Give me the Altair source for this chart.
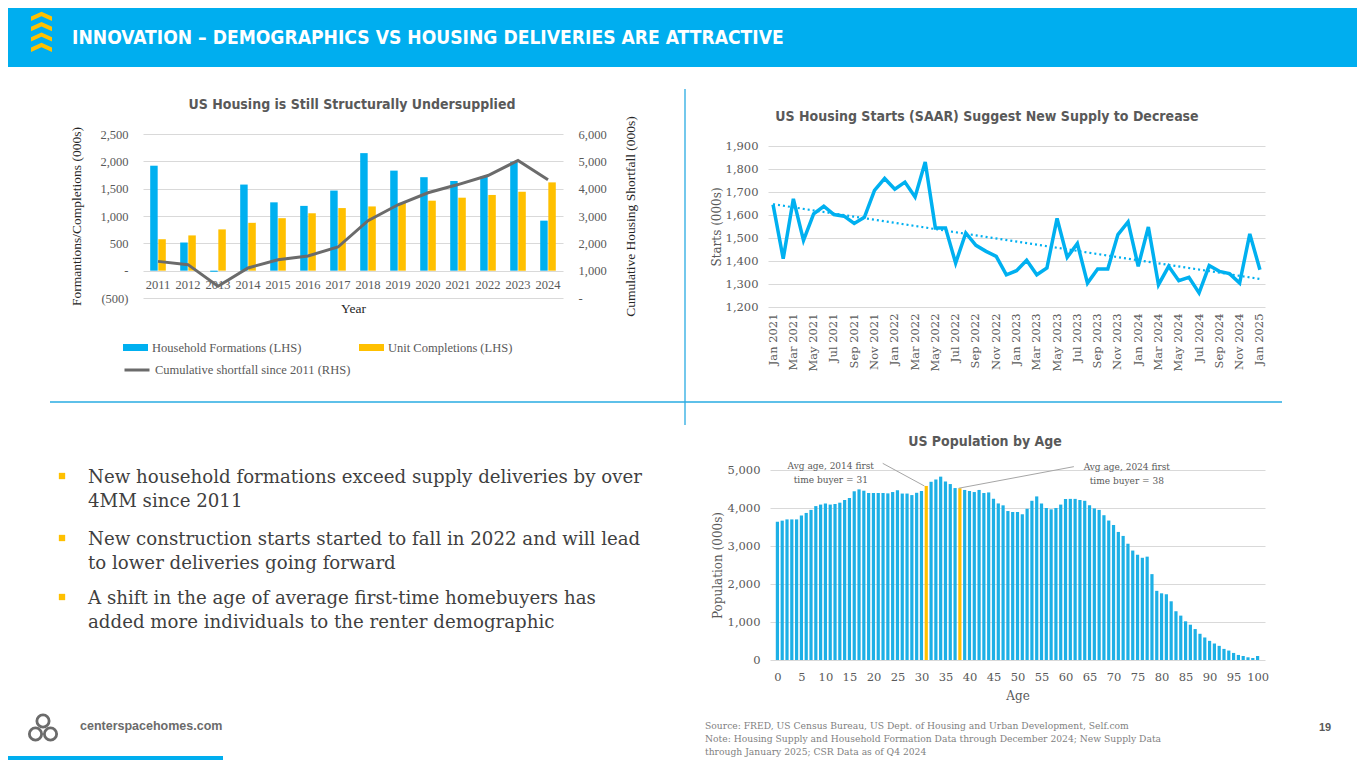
import json
import altair as alt
import pandas as pd

BLUE = "#00B0F0"
BAR_BLUE = "#1DB0E6"
YELLOW = "#FFC000"
GRAY = "#595959"
TEXT = "#3F3F3F"
GRID = "#D9D9D9"
HEAD = "#00AEEF"
DIVIDER = "#29ABE2"
LINE_GRAY = "#6B6B6B"
NARROW = "Liberation Sans Narrow, DejaVu Sans Condensed, sans-serif"
TIMES = "Liberation Serif"
SERIF = "DejaVu Serif"
W, H = 1349, 752

# ---------------- text content ----------------
header_title = "INNOVATION – DEMOGRAPHICS VS HOUSING DELIVERIES ARE ATTRACTIVE"
title1 = "US Housing is Still Structurally Undersupplied"
title2 = "US Housing Starts (SAAR) Suggest New Supply to Decrease"
title3 = "US Population by Age"
bullets = [
    "New household formations exceed supply deliveries by over\n4MM since 2011",
    "New construction starts started to fall in 2022 and will lead\nto lower deliveries going forward",
    "A shift in the age of average first-time homebuyers has\nadded more individuals to the renter demographic",
]
source_lines = [
    "Source: FRED, US Census Bureau, US Dept. of Housing and Urban Development, Self.com",
    "Note: Housing Supply and Household Formation Data through December 2024; New Supply Data",
    "through January 2025; CSR Data as of Q4 2024",
]
website = "centerspacehomes.com"
page_number = "19"

# ---------------- chart 1 data ----------------
years = [2011, 2012, 2013, 2014, 2015, 2016, 2017, 2018, 2019, 2020, 2021, 2022, 2023, 2024]
household_formations = [1920, 515, -20, 1575, 1250, 1185, 1465, 2150, 1830, 1710, 1640, 1720, 1995, 915]
unit_completions = [575, 645, 755, 875, 960, 1050, 1145, 1175, 1240, 1280, 1335, 1385, 1445, 1615]
cumulative_shortfall = [1340, 1220, 430, 1100, 1400, 1540, 1865, 2830, 3410, 3850, 4150, 4480, 5030, 4330]
series_names = ["Household Formations (LHS)", "Unit Completions (LHS)"]
line_name = "Cumulative shortfall since 2011 (RHS)"
lhs_ticks = [-500, 0, 500, 1000, 1500, 2000, 2500]
rhs_ticks = [0, 1000, 2000, 3000, 4000, 5000, 6000]

# ---------------- chart 2 data ----------------
month_names = ["Jan", "Feb", "Mar", "Apr", "May", "Jun", "Jul", "Aug", "Sep", "Oct", "Nov", "Dec"]
month_labels = [f"{m} {y}" for y in range(2021, 2026) for m in month_names][:49]
housing_starts = [1645, 1410, 1670, 1490, 1605, 1638, 1602, 1595, 1563, 1590,
                  1707, 1759, 1712, 1743, 1678, 1830, 1544, 1544, 1391, 1522,
                  1468, 1442, 1420, 1340, 1358, 1403, 1340, 1370, 1585, 1416,
                  1476, 1304, 1365, 1365, 1515, 1570, 1377, 1548, 1297, 1377,
                  1314, 1329, 1261, 1380, 1355, 1345, 1304, 1518, 1362]
starts_ticks = [1200, 1300, 1400, 1500, 1600, 1700, 1800, 1900]

# ---------------- chart 3 data ----------------
ages = list(range(0, 101))
population = [3640, 3667, 3700, 3700, 3700, 3800, 3870, 3950, 4050, 4090,
              4120, 4090, 4105, 4140, 4210, 4260, 4440, 4490, 4455, 4395,
              4395, 4395, 4395, 4385, 4420, 4465, 4380, 4380, 4340, 4400,
              4450, 4580, 4690, 4750, 4825, 4700, 4630, 4525, 4520, 4475,
              4450, 4420, 4475, 4395, 4410, 4245, 4120, 4070, 3920, 3895,
              3895, 3835, 3980, 4190, 4305, 4120, 4000, 3965, 4000, 4090,
              4240, 4240, 4240, 4210, 4190, 4070, 3990, 3950, 3810, 3670,
              3555, 3370, 3265, 3060, 2880, 2770, 2690, 2720, 2260, 1820,
              1755, 1730, 1545, 1283, 1168, 1018, 929, 814, 690, 593,
              504, 434, 372, 292, 248, 186, 133, 106, 71, 53, 106]
buyer_ages = [31, 38]
annotations = ["Avg age, 2014 first\ntime buyer = 31", "Avg age, 2024 first\ntime buyer = 38"]
ann_text_age = [11.9, 72.3]
ann_text_pop = [5118, 5079]
ann_line_age = [22.5, 61.5]
ann_line_pop = [5175, 5088]
pop_ticks = [0, 1000, 2000, 3000, 4000, 5000]
age_ticks = list(range(0, 101, 5))

one = alt.Data(values=[{"k": 0}])
layers = []
COMMA = "format(datum.value, ',')"


def label_text(text, x, y, **kw):
    return alt.Chart(one).mark_text(text=text, **kw).encode(x=alt.value(x), y=alt.value(y))


def axis_common(**kw):
    base = dict(domain=False, ticks=False, tickSize=0, titleFontWeight="normal")
    base.update(kw)
    return alt.Axis(**base)


# ---------------- header ----------------
CHEVRON = "M-1,0 L0,-0.45 L1,0 L1,0.42 L0,-0.03 L-1,0.42 Z"
layers.append(alt.Chart(one).mark_rect(color=HEAD).encode(
    x=alt.value(0), x2=alt.value(W), y=alt.value(0), y2=alt.value(59)))
layers.append(alt.Chart(pd.DataFrame({"i": [0, 1, 2, 3]})).mark_point(
    shape=CHEVRON, size=441, filled=True, color=YELLOW, opacity=1, strokeWidth=0
).encode(x=alt.value(33.5),
         y=alt.Y("i:Q", scale=alt.Scale(domain=[0, 3], range=[8.5, 39.5]), axis=None)))
layers.append(label_text(header_title, 64, 30, font=NARROW, fontSize=19.1, fontWeight="bold",
                         color="white", align="left", baseline="middle"))

# ---------------- chart 1 ----------------
X1_RANGE = [135, 555]
Y1_RANGE = [290, 126]
bars_df = pd.DataFrame({
    "year": years * 2,
    "series": [series_names[0]] * len(years) + [series_names[1]] * len(years),
    "value": household_formations + unit_completions,
})
line_df = pd.DataFrame({"year": years, "shortfall": cumulative_shortfall, "name": line_name})
lhs_expr = ("datum.value == 0 ? '-' : (datum.value < 0 ? '(' + format(-datum.value, ',') + ')' "
            ": format(datum.value, ','))")
rhs_expr = "datum.value == 0 ? '-' : format(datum.value, ',')"


def x1_scale():
    return alt.Scale(domain=years, range=X1_RANGE, paddingInner=0.48, paddingOuter=0.24)


layers.append(alt.Chart(bars_df).mark_bar().encode(
    x=alt.X("year:O", title="Year", scale=x1_scale(),
            axis=axis_common(orient="bottom", offset=263 - H, labelAngle=0, labelPadding=7,
                             labelFont=TIMES, labelFontSize=12.5, labelColor=GRAY,
                             titleFont=TIMES, titleFontSize=13.5, titleColor="#262626",
                             titlePadding=11)),
    xOffset=alt.XOffset("series:N", sort=series_names, scale=alt.Scale(paddingInner=0.08)),
    y=alt.Y("value:Q", scale=alt.Scale(domain=[-500, 2500], range=Y1_RANGE, nice=False, zero=False),
            axis=axis_common(orient="left", offset=-X1_RANGE[0], values=lhs_ticks,
                             labelExpr=lhs_expr, grid=True, gridColor=GRID, labelPadding=15,
                             labelFont=TIMES, labelFontSize=12.5, labelColor=GRAY,
                             title="Formantions/Completions (000s)", titleFont=TIMES,
                             titleFontSize=13.5, titleColor="#262626", titlePadding=16)),
    color=alt.Color("series:N", sort=series_names,
                    scale=alt.Scale(domain=series_names, range=[BLUE, YELLOW]),
                    legend=alt.Legend(title=None, orient="none", legendX=115, legendY=327,
                                      columns=2, columnPadding=57, labelLimit=300,
                                      symbolType="M-1,-0.28H1V0.28H-1Z", symbolSize=625,
                                      symbolStrokeWidth=0, labelFont=TIMES, labelFontSize=12.5,
                                      labelColor=GRAY, labelOffset=4, padding=0)),
))
layers.append(alt.Chart(line_df).mark_line(strokeWidth=3).encode(
    x=alt.X("year:O", scale=x1_scale(), axis=None),
    y=alt.Y("shortfall:Q", scale=alt.Scale(domain=[0, 6000], range=Y1_RANGE, nice=False),
            axis=axis_common(orient="right", offset=X1_RANGE[1] - W, values=rhs_ticks,
                             labelExpr=rhs_expr, grid=False, labelPadding=15,
                             labelFont=TIMES, labelFontSize=12.5, labelColor=GRAY,
                             title="Cumulative Housing Shortfall (000s)", titleAngle=270,
                             titleFont=TIMES, titleFontSize=13.5, titleColor="#262626",
                             titlePadding=31)),
    stroke=alt.Stroke("name:N", scale=alt.Scale(domain=[line_name], range=[LINE_GRAY]),
                      legend=alt.Legend(title=None, orient="none", legendX=115, legendY=348,
                                        symbolType="stroke", symbolSize=625, labelLimit=300,
                                        symbolStrokeWidth=3, labelFont=TIMES,
                                        labelFontSize=12.5, labelColor=GRAY, labelOffset=4,
                                        padding=0)),
))
layers.append(label_text(title1, 344, 97, font=NARROW, fontSize=14, fontWeight="bold",
                         color=GRAY, align="center", baseline="middle"))

# ---------------- chart 2 ----------------
X2_RANGE = [760, 1257]
Y2_RANGE = [299, 138]
df2 = pd.DataFrame({"idx": list(range(len(month_labels))), "month": month_labels,
                    "starts": housing_starts})
lab2 = json.dumps(month_labels) + "[datum.value]"


def x2_scale():
    return alt.Scale(domain=[-0.5, len(month_labels) - 0.5], range=X2_RANGE, nice=False, zero=False)


def y2_scale():
    return alt.Scale(domain=[1200, 1900], range=Y2_RANGE, nice=False, zero=False)


layers.append(alt.Chart(df2).mark_line(color=BLUE, strokeWidth=3.5).encode(
    x=alt.X("idx:Q", scale=x2_scale(),
            axis=axis_common(orient="bottom", offset=Y2_RANGE[0] - H,
                             values=list(range(0, len(month_labels), 2)), labelExpr=lab2,
                             labelAngle=270, labelPadding=6, labelFlush=False, grid=False,
                             labelFont=SERIF, labelFontSize=11.5, labelColor=GRAY, title=None)),
    y=alt.Y("starts:Q", scale=y2_scale(),
            axis=axis_common(orient="left", offset=-X2_RANGE[0], values=starts_ticks,
                             labelExpr=COMMA, grid=True, gridColor=GRID, labelPadding=10,
                             labelFont=SERIF, labelFontSize=11.5, labelColor=GRAY,
                             title="Starts (000s)", titleFont=SERIF, titleFontSize=12,
                             titleColor=GRAY, titlePadding=2)),
))
layers.append(alt.Chart(df2).transform_regression("idx", "starts").mark_line(
    color=BLUE, strokeWidth=2.2, strokeDash=[2, 3]).encode(
    x=alt.X("idx:Q", scale=x2_scale(), axis=None),
    y=alt.Y("starts:Q", scale=y2_scale(), axis=None)))
layers.append(label_text(title2, 979, 109, font=NARROW, fontSize=14, fontWeight="bold",
                         color=GRAY, align="center", baseline="middle"))

# ---------------- chart 3 ----------------
X3_RANGE = [762, 1257]
Y3_RANGE = [652, 462]
df3 = pd.DataFrame({"age": ages, "pop": population,
                    "kind": ["buyer" if a in buyer_ages else "pop" for a in ages]})
ann_df = pd.DataFrame({
    "label": annotations, "tx": ann_text_age, "ty": ann_text_pop,
    "lx": ann_line_age, "ly": ann_line_pop,
    "bx": buyer_ages, "by": [population[a] for a in buyer_ages],
})


def x3_scale():
    return alt.Scale(domain=[-0.5, 100.5], range=X3_RANGE, nice=False, zero=False)


def y3_scale():
    return alt.Scale(domain=[0, 5000], range=Y3_RANGE, nice=False)


layers.append(alt.Chart(df3).mark_bar(size=3.2).encode(
    x=alt.X("age:Q", scale=x3_scale(),
            axis=axis_common(orient="bottom", offset=Y3_RANGE[0] - H, values=age_ticks,
                             labelFlush=False, grid=False, labelPadding=11, labelFont=SERIF,
                             labelFontSize=11.5, labelColor=GRAY, title="Age", titleFont=SERIF,
                             titleFontSize=12, titleColor=GRAY, titlePadding=8)),
    y=alt.Y("pop:Q", scale=y3_scale(),
            axis=axis_common(orient="left", offset=-X3_RANGE[0], values=pop_ticks,
                             labelExpr=COMMA, grid=True, gridColor=GRID, labelPadding=10,
                             labelFont=SERIF, labelFontSize=11.5, labelColor=GRAY,
                             title="Population (000s)", titleFont=SERIF, titleFontSize=12,
                             titleColor=GRAY, titlePadding=3)),
    color=alt.Color("kind:N", scale=alt.Scale(domain=["pop", "buyer"], range=[BAR_BLUE, YELLOW]),
                    legend=None),
))
layers.append(alt.Chart(ann_df).mark_rule(color="#A6A6A6", strokeWidth=1).encode(
    x=alt.X("lx:Q", scale=x3_scale(), axis=None),
    y=alt.Y("ly:Q", scale=y3_scale(), axis=None),
    x2="bx:Q", y2="by:Q"))
layers.append(alt.Chart(ann_df).mark_text(
    font=SERIF, fontSize=9, color=GRAY, align="center", baseline="middle",
    lineBreak="\n", lineHeight=14).encode(
    x=alt.X("tx:Q", scale=x3_scale(), axis=None),
    y=alt.Y("ty:Q", scale=y3_scale(), axis=None),
    text="label:N"))
layers.append(label_text(title3, 977, 434, font=NARROW, fontSize=14, fontWeight="bold",
                         color=GRAY, align="center", baseline="middle"))

# ---------------- dividers ----------------
layers.append(alt.Chart(one).mark_rule(color=DIVIDER, strokeWidth=1.3).encode(
    x=alt.value(677), y=alt.value(81), y2=alt.value(417)))
layers.append(alt.Chart(one).mark_rule(color=DIVIDER, strokeWidth=1.3).encode(
    x=alt.value(42), x2=alt.value(1274), y=alt.value(394)))

# ---------------- bullets ----------------
bullet_y = [468, 530, 589]
for b, by in zip(bullets, bullet_y):
    layers.append(alt.Chart(one).mark_point(shape="square", filled=True, color=YELLOW,
                                            size=40, opacity=1).encode(
        x=alt.value(54), y=alt.value(by)))
    layers.append(label_text(b, 80, by + 7, font=SERIF, fontSize=18.2, color=TEXT,
                             align="left", baseline="alphabetic", lineBreak="\n",
                             lineHeight=24))

# ---------------- footer ----------------
for cx, cy in [(35, 713), (27.5, 726), (42.5, 726)]:
    layers.append(alt.Chart(one).mark_point(shape="circle", filled=False, color=LINE_GRAY,
                                            size=150, strokeWidth=2.8, opacity=1).encode(
        x=alt.value(cx), y=alt.value(cy)))
layers.append(label_text(website, 72, 718, font="Liberation Sans", fontSize=12.5,
                         fontWeight="bold", color=LINE_GRAY, align="left", baseline="middle"))
layers.append(alt.Chart(one).mark_rect(color=HEAD).encode(
    x=alt.value(0), x2=alt.value(215), y=alt.value(748), y2=alt.value(752)))
layers.append(label_text("\n".join(source_lines), 697, 721, font=SERIF, fontSize=9.2,
                         color="#7F7F7F", align="left", baseline="alphabetic", lineBreak="\n",
                         lineHeight=13))
layers.append(label_text(page_number, 1317, 720, font="Liberation Sans", fontSize=11,
                         fontWeight="bold", color=GRAY, align="center", baseline="middle"))

chart = alt.layer(*layers).resolve_scale(
    x="independent", y="independent", color="independent", stroke="independent"
).properties(width=W, height=H, padding=0,
             autosize=alt.AutoSizeParams(type="none")).configure_view(stroke=None)

chart.save("out.html", embed_options={"renderer": "svg", "actions": False})
